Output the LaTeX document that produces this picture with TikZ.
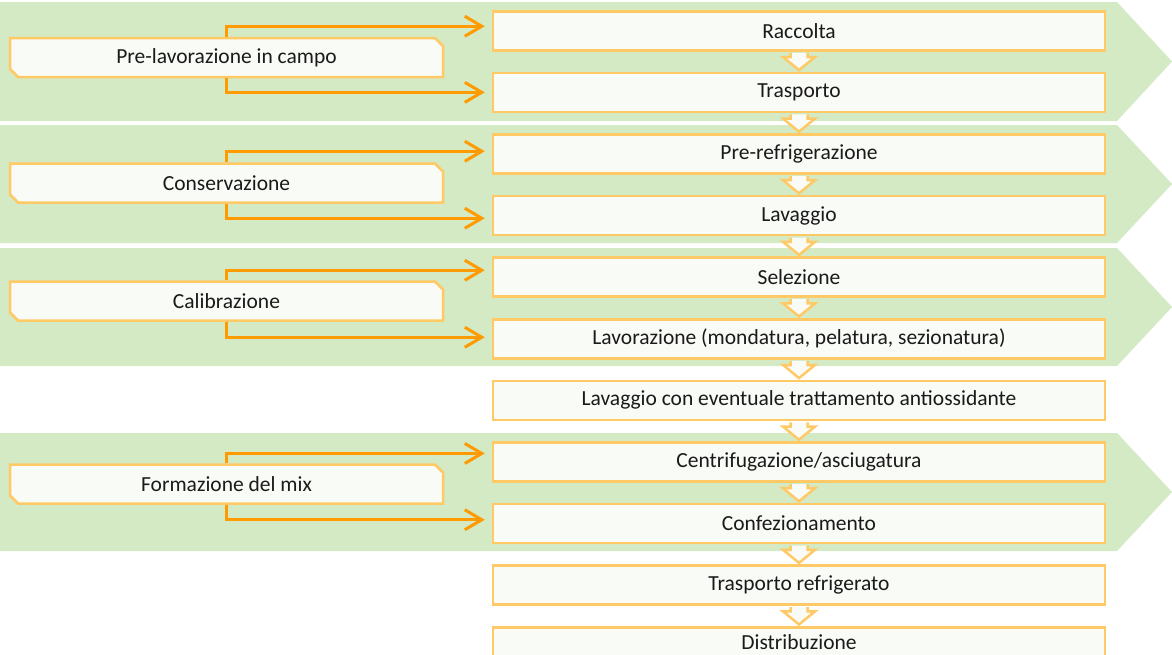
\documentclass[tikz,border=0pt]{standalone}
\usepackage{fontspec}
\setmainfont{Carlito}
\usetikzlibrary{shapes.misc,arrows.meta,calc}
\definecolor{bandgreen}{HTML}{D3EAC5}
\definecolor{boxline}{HTML}{FFC966}
\definecolor{boxfill}{HTML}{F9FBF6}
\definecolor{conn}{HTML}{FF9A00}
\definecolor{txt}{HTML}{1A1A1A}
\begin{document}
\begin{tikzpicture}[x=1pt,y=-1pt,
  band/.style={fill=bandgreen,draw=none},
  stepbox/.style={draw=boxline,fill=boxfill,line width=2.5pt,minimum width=612pt,
    minimum height=39pt,inner sep=0pt,anchor=north,text=txt,
    font=\fontsize{21.5}{25}\selectfont},
  labbox/.style={chamfered rectangle,chamfered rectangle corners={north east,south west},
    chamfered rectangle xsep=4pt,chamfered rectangle ysep=4pt,
    draw=boxline,fill=boxfill,line width=2.5pt,minimum width=433pt,
    minimum height=39pt,inner sep=0pt,text=txt,
    font=\fontsize{21.5}{25}\selectfont},
  conline/.style={draw=conn,line width=3pt,-{Straight Barb[length=17pt,width=20pt,line width=3pt]}},
  downarrow/.style={draw=boxline,fill=boxfill,line width=2.5pt,line join=miter}
]
\useasboundingbox (0,0) rectangle (1172,654);
\fill[white] (0,0) rectangle (1172,654);
% bands
\foreach \T/\B in {2/121,125/243,248/366,433/551}{
  \path[band] (0,\T) -- (1117,\T) -- (1172,{(\T+\B)/2}) -- (1117,\B) -- (0,\B) -- cycle;
}
% label boxes
\node[labbox] (l1) at (226.5,57.5) {Pre-lavorazione in campo};
\node[labbox] (l2) at (226.5,183) {Conservazione};
\node[labbox] (l3) at (226.5,301) {Calibrazione};
\node[labbox] (l4) at (226.5,484) {Formazione del mix};
% step boxes
\node[stepbox] (s0) at (799,10) {Raccolta};
\node[stepbox] (s1) at (799,71.6) {Trasporto};
\node[stepbox] (s2) at (799,133.2) {Pre-refrigerazione};
\node[stepbox] (s3) at (799,194.8) {Lavaggio};
\node[stepbox] (s4) at (799,256.4) {Selezione};
\node[stepbox] (s5) at (799,318) {Lavorazione (mondatura, pelatura, sezionatura)};
\node[stepbox] (s6) at (799,379.6) {Lavaggio con eventuale trattamento antiossidante};
\node[stepbox] (s7) at (799,441.2) {Centrifugazione/asciugatura};
\node[stepbox] (s8) at (799,502.8) {Confezionamento};
\node[stepbox] (s9) at (799,564.4) {Trasporto refrigerato};
\node[stepbox,minimum height=30pt] (s10) at (799,626) {Distribuzione};
% block arrows between steps
\foreach \i [evaluate=\i as \j using int(\i+1)] in {0,...,9}{
  \filldraw[downarrow] ($(s\i.south)+(-8.5,1.3)$) -- ($(s\i.south)+(-8.5,5.5)$)
    -- ($(s\i.south)+(-16,5.5)$) -- ($(s\j.north)+(0,-1.5)$)
    -- ($(s\i.south)+(16,5.5)$) -- ($(s\i.south)+(8.5,5.5)$)
    -- ($(s\i.south)+(8.5,1.3)$);
}
% connectors
\foreach \l/\a/\da/\b/\db in {l1/s0/-4.5/s1/0, l2/s2/-2.7/s3/2.7, l3/s4/-6.9/s5/-1.5, l4/s7/-8.5/s8/-3.8}{
  \draw[conline] (\l.north) |- ($(\a.west)+(-7,\da)$);
  \draw[conline] (\l.south) |- ($(\b.west)+(-7,\db)$);
}
\end{tikzpicture}
\end{document}
